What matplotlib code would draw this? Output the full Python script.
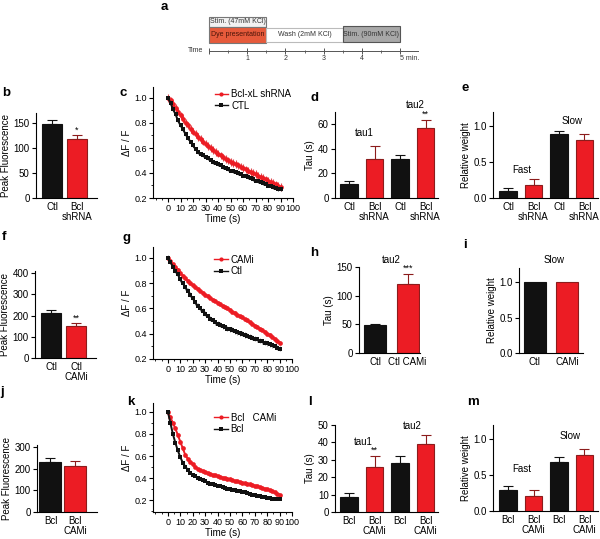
import matplotlib

matplotlib.use("Agg")
import matplotlib.pyplot as plt
from matplotlib.lines import Line2D
from matplotlib.patches import Rectangle
from matplotlib.ticker import MultipleLocator

plt.rcParams["font.family"] = ["Liberation Sans", "DejaVu Sans"]
plt.rcParams["axes.linewidth"] = 0.8

W, H = 600, 539
BLACK = "#111111"
RED = "#ec1c24"
RED_EDGE = "#8c1c1c"

# ---- panel a: protocol (minutes) ----
stage_names = ["Stim. (47mM KCl)", "Dye presentation", "Wash (2mM KCl)", "Stim. (90mM KCl)"]
stage_start = [0.0, 0.0, 1.5, 3.5]
stage_end = [1.5, 1.5, 3.5, 5.0]
time_ticks = [1, 2, 3, 4, 5]
time_ticklabels = ["1", "2", "3", "4", "5 min."]

# ---- bar panels ----
b_labels = ["Ctl", "Bcl\nshRNA"]
b_vals = [148, 119]
b_err = [9, 7]

d_labels = ["Ctl", "Bcl\nshRNA", "Ctl", "Bcl\nshRNA"]
d_vals = [11, 31.5, 31.5, 57]
d_err = [3, 11, 3.7, 6.8]

e_labels = ["Ctl", "Bcl\nshRNA", "Ctl", "Bcl\nshRNA"]
e_vals = [0.10, 0.18, 0.89, 0.81]
e_err = [0.045, 0.09, 0.05, 0.09]

f_labels = ["Ctl", "Ctl\nCAMi"]
f_vals = [214, 153]
f_err = [11, 10]

h_labels = ["Ctl", "Ctl CAMi"]
h_vals = [48, 120]
h_err = [3, 18]

i_labels = ["Ctl", "CAMi"]
i_vals = [1.0, 1.0]

j_labels = ["Bcl", "Bcl\nCAMi"]
j_vals = [231, 213]
j_err = [17, 22]

l_labels = ["Bcl", "Bcl\nCAMi", "Bcl", "Bcl\nCAMi"]
l_vals = [8.7, 26, 28.3, 39]
l_err = [2.5, 6.3, 4, 5.2]

m_labels = ["Bcl", "Bcl\nCAMi", "Bcl", "Bcl\nCAMi"]
m_vals = [0.30, 0.21, 0.69, 0.78]
m_err = [0.05, 0.09, 0.06, 0.085]

# ---- decay traces (dF/F every 2 s, 0..90 s) ----
TIME = list(range(0, 91, 2))

c_ctl = [1.00, 0.96, 0.91, 0.87, 0.82, 0.78, 0.75, 0.71, 0.68, 0.65,
         0.62, 0.59, 0.57, 0.55, 0.54, 0.53, 0.52, 0.50, 0.49, 0.48,
         0.47, 0.46, 0.45, 0.44, 0.43, 0.42, 0.415, 0.41, 0.40, 0.39,
         0.38, 0.375, 0.37, 0.36, 0.35, 0.34, 0.335, 0.33, 0.32, 0.31,
         0.30, 0.295, 0.29, 0.28, 0.275, 0.27]
c_shrna = [1.00, 0.98, 0.95, 0.92, 0.89, 0.86, 0.83, 0.80, 0.78, 0.75,
           0.73, 0.71, 0.69, 0.67, 0.65, 0.635, 0.615, 0.60, 0.585, 0.57,
           0.555, 0.54, 0.525, 0.51, 0.50, 0.49, 0.48, 0.47, 0.46, 0.45,
           0.44, 0.43, 0.42, 0.41, 0.40, 0.39, 0.38, 0.37, 0.36, 0.35,
           0.34, 0.33, 0.32, 0.31, 0.30, 0.29]
c_ctl_err = 0.015
c_shrna_err = 0.03

g_ctl = [1.00, 0.97, 0.93, 0.90, 0.87, 0.83, 0.80, 0.77, 0.74, 0.71,
         0.68, 0.65, 0.62, 0.60, 0.58, 0.56, 0.54, 0.52, 0.505, 0.49,
         0.48, 0.47, 0.46, 0.45, 0.44, 0.435, 0.43, 0.42, 0.41, 0.405,
         0.40, 0.39, 0.385, 0.375, 0.37, 0.36, 0.355, 0.345, 0.34, 0.33,
         0.325, 0.315, 0.31, 0.30, 0.29, 0.28]
g_cami = [1.00, 0.975, 0.95, 0.93, 0.905, 0.88, 0.86, 0.84, 0.82, 0.80,
          0.785, 0.77, 0.755, 0.74, 0.725, 0.71, 0.70, 0.685, 0.67, 0.66,
          0.645, 0.635, 0.62, 0.61, 0.60, 0.59, 0.575, 0.565, 0.55, 0.54,
          0.53, 0.515, 0.505, 0.49, 0.48, 0.465, 0.455, 0.44, 0.43, 0.415,
          0.40, 0.39, 0.375, 0.36, 0.345, 0.33]
g_ctl_err = 0.02
g_cami_err = 0.012

k_bcl = [1.00, 0.90, 0.80, 0.72, 0.65, 0.59, 0.54, 0.505, 0.475, 0.45,
         0.43, 0.415, 0.40, 0.39, 0.38, 0.37, 0.36, 0.35, 0.345, 0.34,
         0.33, 0.325, 0.315, 0.31, 0.305, 0.30, 0.295, 0.29, 0.285, 0.28,
         0.275, 0.27, 0.265, 0.26, 0.25, 0.245, 0.24, 0.235, 0.23, 0.225,
         0.22, 0.22, 0.215, 0.215, 0.21, 0.21]
k_cami = [1.00, 0.95, 0.90, 0.85, 0.79, 0.73, 0.67, 0.61, 0.575, 0.55,
          0.525, 0.50, 0.485, 0.47, 0.46, 0.455, 0.445, 0.44, 0.43, 0.425,
          0.42, 0.41, 0.405, 0.40, 0.395, 0.39, 0.38, 0.375, 0.37, 0.365,
          0.36, 0.355, 0.35, 0.345, 0.34, 0.33, 0.325, 0.32, 0.31, 0.305,
          0.30, 0.29, 0.28, 0.27, 0.26, 0.25]


def px_axes(fig, left, top, right, bottom):
    return fig.add_axes([left / W, 1 - bottom / H, (right - left) / W, (bottom - top) / H])


def letter(fig, x, y, s):
    fig.text(x / W, 1 - y / H, s, fontsize=9.5, fontweight="bold", va="top", ha="left")


def bar_panel(ax, vals, errs, labels, ylim, yticks, xlim, width, ylabel, yfmt=None):
    x = list(range(len(vals)))
    colors = [BLACK if k % 2 == 0 else RED for k in x]
    edges = [BLACK if k % 2 == 0 else RED_EDGE for k in x]
    ax.bar(x, vals, width, color=colors, edgecolor=edges, linewidth=0.8, zorder=2)
    if errs is not None:
        for k in x:
            ax.errorbar(k, vals[k], yerr=[[0], [errs[k]]], fmt="none", ecolor=edges[k],
                        elinewidth=0.8, capsize=3.5, capthick=0.8, zorder=1)
    ax.set_xlim(*xlim)
    ax.set_ylim(*ylim)
    ax.set_yticks(yticks)
    if yfmt:
        ax.set_yticklabels([yfmt.format(v) for v in yticks])
    ax.set_xticks(x)
    ax.set_xticklabels(labels, fontsize=7, linespacing=1.0)
    ax.tick_params(axis="x", length=0, pad=3)
    ax.tick_params(axis="y", length=3, width=0.8, labelsize=7, pad=1.5)
    ax.set_ylabel(ylabel, fontsize=7, labelpad=2)
    for side in ("top", "right"):
        ax.spines[side].set_visible(False)


def star(ax, xpos, top, s):
    ax.annotate(s, xy=(xpos, top), xytext=(0, 0.5), textcoords="offset points",
                ha="center", va="bottom", fontsize=6.5, annotation_clip=False)


def trace_panel(ax, series, ylim, legend_anchor):
    for vals, err, color, marker, ecolor, label in series:
        ax.errorbar(TIME, vals, yerr=err, color=color, marker=marker, ms=3.4, mew=0,
                    lw=1.4, ecolor=ecolor, elinewidth=0.8, capsize=0, label=label)
    ax.set_xlim(-12, 100)
    ax.set_ylim(*ylim)
    ax.set_xticks(range(0, 101, 10))
    ax.xaxis.set_minor_locator(MultipleLocator(5))
    ax.set_yticks([0.2, 0.4, 0.6, 0.8, 1.0])
    ax.set_yticklabels(["0.2", "0.4", "0.6", "0.8", "1.0"])
    ax.yaxis.set_minor_locator(MultipleLocator(0.1))
    ax.tick_params(which="major", length=3, width=0.8, labelsize=6.5, pad=1.2)
    ax.tick_params(which="minor", length=1.6, width=0.6)
    ax.set_xlabel("Time (s)", fontsize=7, labelpad=0.5)
    ax.set_ylabel("\u0394F / F", fontsize=7, labelpad=2)
    for side in ("top", "right"):
        ax.spines[side].set_visible(False)
    handles = [Line2D([0], [0], color=s[2], marker=s[3], ms=3, mew=0, lw=1.0) for s in series]
    ax.legend(handles, [s[5] for s in series], loc="upper left", bbox_to_anchor=legend_anchor,
              frameon=False, fontsize=7, handlelength=1.4, handletextpad=0.3,
              labelspacing=0.15, borderpad=0, borderaxespad=0)


fig = plt.figure(figsize=(W / 100, H / 100), dpi=100)

# ---- a: protocol timeline ----
ax_a = px_axes(fig, 150, 0, 450, 80)
px_per_min = 38.2
ax_a.set_xlim((150 - 209) / px_per_min, (450 - 209) / px_per_min)
ax_a.set_ylim(80, 0)
ax_a.axis("off")
box_y = [(17, 26.5), (27, 43), (28, 42), (26, 42)]
box_face = ["#f2f2f2", "#e65a3b", "white", "#a8a8a8"]
box_edge = ["#777777", "#777777", "#bbbbbb", "#555555"]
text_col = ["#333333", "#4a1408", "#333333", "#333333"]
for name, s0, s1, (y0, y1), fc, ec, tc in zip(stage_names, stage_start, stage_end,
                                              box_y, box_face, box_edge, text_col):
    ax_a.add_patch(Rectangle((s0, y0), s1 - s0, y1 - y0, facecolor=fc, edgecolor=ec, linewidth=0.8))
    ax_a.text((s0 + s1) / 2, (y0 + y1) / 2, name, ha="center", va="center", fontsize=5, color=tc)
ax_a.plot([0, 5.47], [51, 51], color="#555555", lw=0.7)
minor = [v / 2 for v in range(0, 11)]
ax_a.vlines(minor, 49.5, 52.5, color="#555555", lw=0.6)
ax_a.vlines([0] + time_ticks, 48, 54, color="#555555", lw=0.7)
for t, lab in zip(time_ticks, time_ticklabels):
    ax_a.text(t, 59, lab, ha="left" if "min" in lab else "center", va="center", fontsize=5,
              color="#333333")
ax_a.text(-0.16, 51, "Time", ha="right", va="center", fontsize=5, color="#333333")
letter(fig, 161, 1, "a")

# ---- row 1 ----
ax_b = px_axes(fig, 36, 113, 97, 198)
bar_panel(ax_b, b_vals, b_err, b_labels, (0, 170), [0, 50, 100, 150], (-0.64, 1.8), 0.8,
          "Peak Fluorescence")
star(ax_b, 1, b_vals[1] + b_err[1], "*")

ax_c = px_axes(fig, 153, 87, 293, 198)
trace_panel(ax_c, [
    (c_shrna, c_shrna_err, RED, "o", "#e0484e", "Bcl-xL shRNA"),
    (c_ctl, c_ctl_err, BLACK, "s", "#555555", "CTL"),
], (0.2, 1.088), (0.44, 0.98))

ax_d = px_axes(fig, 335, 112, 438, 198)
bar_panel(ax_d, d_vals, d_err, d_labels, (0, 70), [0, 20, 40, 60], (-0.55, 3.49), 0.7, "Tau (s)")
star(ax_d, 3, d_vals[3] + d_err[3], "**")
ax_d.text(0.6, 52.5, "tau1", ha="center", va="center", fontsize=7)
ax_d.text(2.6, 75.5, "tau2", ha="center", va="center", fontsize=7)

ax_e = px_axes(fig, 493, 112, 598, 198)
bar_panel(ax_e, e_vals, e_err, e_labels, (0, 1.2), [0.0, 0.5, 1.0], (-0.59, 3.53), 0.7,
          "Relative weight", "{:.1f}")
ax_e.text(0.55, 0.39, "Fast", ha="center", va="center", fontsize=7)
ax_e.text(2.5, 1.07, "Slow", ha="center", va="center", fontsize=7)

# ---- row 2 ----
ax_f = px_axes(fig, 35, 271, 96, 358)
bar_panel(ax_f, f_vals, f_err, f_labels, (0, 410), [0, 100, 200, 300, 400], (-0.64, 1.8), 0.8,
          "Peak Fluorescence")
star(ax_f, 1, f_vals[1] + f_err[1], "**")

ax_g = px_axes(fig, 153, 247, 292, 359)
trace_panel(ax_g, [
    (g_cami, g_cami_err, RED, "o", "#e0484e", "CAMi"),
    (g_ctl, g_ctl_err, BLACK, "s", "#9a9a9a", "Ctl"),
], (0.2, 1.087), (0.44, 0.93))

ax_h = px_axes(fig, 359, 267, 420, 353)
bar_panel(ax_h, h_vals, h_err, h_labels, (0, 150), [0, 50, 100, 150], (-0.49, 1.38), 0.68,
          "Tau (s)")
star(ax_h, 1, h_vals[1] + h_err[1], "***")
ax_h.text(0.5, 163, "tau2", ha="center", va="center", fontsize=7)

ax_i = px_axes(fig, 519, 268, 583, 353)
bar_panel(ax_i, i_vals, None, i_labels, (0, 1.2), [0.0, 0.5, 1.0], (-0.49, 1.48), 0.68,
          "Relative weight", "{:.1f}")
ax_i.text(0.6, 1.31, "Slow", ha="center", va="center", fontsize=7)

# ---- row 3 ----
ax_j = px_axes(fig, 37, 445, 97, 512)
bar_panel(ax_j, j_vals, j_err, j_labels, (0, 310), [0, 100, 200, 300], (-0.55, 1.9), 0.9,
          "Peak Fluorescence")

ax_k = px_axes(fig, 153, 403, 292, 512)
trace_panel(ax_k, [
    (k_cami, 0.0, RED, "o", RED, "Bcl   CAMi"),
    (k_bcl, 0.0, BLACK, "s", BLACK, "Bcl"),
], (0.093, 1.08), (0.44, 0.91))

ax_l = px_axes(fig, 335, 425, 438, 512)
bar_panel(ax_l, l_vals, l_err, l_labels, (0, 50), [0, 10, 20, 30, 40, 50], (-0.55, 3.49), 0.7,
          "Tau (s)")
star(ax_l, 1, l_vals[1] + l_err[1], "**")
ax_l.text(0.55, 40, "tau1", ha="center", va="center", fontsize=7)
ax_l.text(2.5, 49.5, "tau2", ha="center", va="center", fontsize=7)

ax_m = px_axes(fig, 493, 425, 598, 511)
bar_panel(ax_m, m_vals, m_err, m_labels, (0, 1.2), [0.0, 0.5, 1.0], (-0.59, 3.53), 0.7,
          "Relative weight", "{:.1f}")
ax_m.text(0.55, 0.59, "Fast", ha="center", va="center", fontsize=7)
ax_m.text(2.45, 1.05, "Slow", ha="center", va="center", fontsize=7)

for x, y, s in [(2, 87, "b"), (120, 87, "c"), (310, 92, "d"), (462, 82, "e"),
                (2, 231, "f"), (123, 232, "g"), (310, 247, "h"), (463, 239, "i"),
                (0, 386, "j"), (127, 396, "k"), (308, 396, "l"), (467, 396, "m")]:
    letter(fig, x, y, s)

fig.savefig("out.png", dpi=100)
